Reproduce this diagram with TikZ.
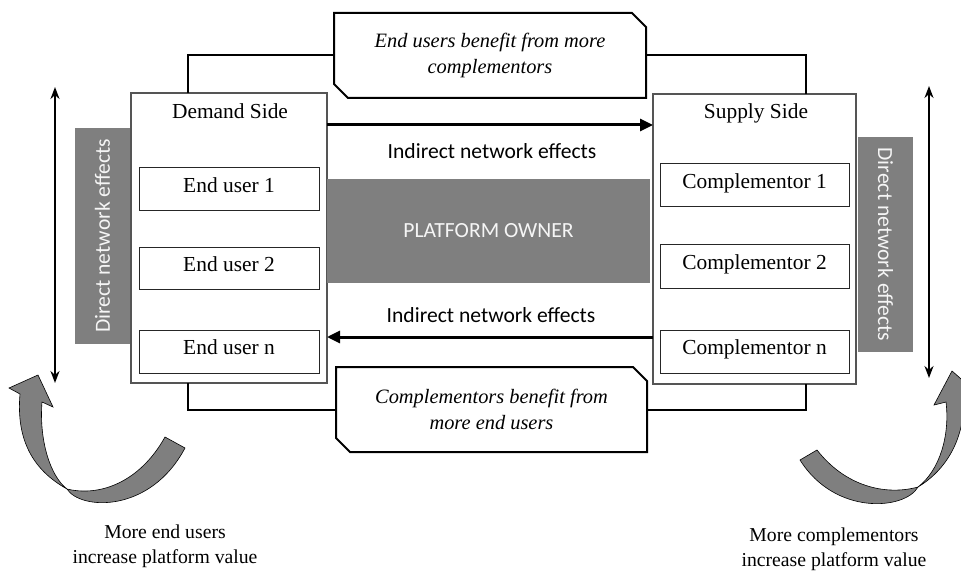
\documentclass[tikz,border=0pt]{standalone}
\usepackage{fontspec}
\setmainfont{Liberation Serif}
\newfontfamily\calib{Carlito}
\usetikzlibrary{arrows.meta}
\definecolor{pgray}{HTML}{7F7F7F}
\definecolor{pline}{HTML}{555555}
\begin{document}
\begin{tikzpicture}[x=1pt,y=-1pt,
  sidebox/.style={draw=pline,line width=1.2pt,inner sep=0pt,outer sep=0pt,fill=white},
  sidetitle/.style={font=\fontsize{21.4}{24}\selectfont,inner sep=0pt},
  item/.style={draw=black!85,line width=1pt,inner sep=0pt,outer sep=0pt,fill=white,
    font=\fontsize{21.4}{24}\selectfont,text height=0.66em,text depth=0pt},
  graybox/.style={fill=pgray,inner sep=0pt,outer sep=0pt,text=white!96!black},
  calltext/.style={inner sep=0pt,outer sep=0pt,align=center,font=\itshape\fontsize{20.4}{26}\selectfont},
  callshape/.style={draw=black,line width=2pt,line join=miter},
  conn/.style={draw=black,line width=2pt},
  bigarrow/.style={line width=3pt,-{Triangle[length=13pt,width=12pt]}},
  dbl/.style={line width=2pt,{Stealth[length=12pt,width=9pt]}-{Stealth[length=12pt,width=9pt]}},
  sansfont/.style={font=\calib\fontsize{21.6}{24}\selectfont},
  sanslbl/.style={sansfont,inner sep=0pt},
  caption/.style={align=center,inner sep=0pt,font=\fontsize{19.7}{25}\selectfont},
  curvearrow/.style={fill=pgray,draw=black,line width=0.6pt,line join=miter}
]
\useasboundingbox (0,0) rectangle (961,572);
\clip (0,0) rectangle (961,572);

% connector helper coordinates
\coordinate (dl) at (188,0);
\coordinate (sr) at (806,0);
\coordinate (ya) at (0,125);
\coordinate (yb) at (0,337);

% callouts
\node[calltext,minimum width=312pt,minimum height=85pt] (topcb) at (490,55.5)
  {End users benefit from more\\complementors};
\node[calltext,minimum width=311pt,minimum height=85pt] (botcb) at (491.5,409.5)
  {Complementors benefit from\\more end users};
\draw[callshape] (topcb.north west) -- ([xshift=-14pt]topcb.north east)
  -- ([yshift=-14pt]topcb.north east) -- (topcb.south east)
  -- ([xshift=14pt]topcb.south west) -- ([yshift=14pt]topcb.south west) -- cycle;
\draw[callshape] (botcb.north west) -- ([xshift=-14pt]botcb.north east)
  -- ([yshift=-14pt]botcb.north east) -- (botcb.south east)
  -- ([xshift=14pt]botcb.south west) -- ([yshift=14pt]botcb.south west) -- cycle;

% side boxes
\node[sidebox,minimum width=196pt,minimum height=290pt] (demand) at (229,238) {};
\node[sidebox,minimum width=203pt,minimum height=290pt] (supply) at (754.5,239) {};

% connectors from callouts to side boxes
\draw[conn] (topcb.west) -| (dl |- demand.north);
\draw[conn] (topcb.east) -| (sr |- supply.north);
\draw[conn] (botcb.west) -| (dl |- demand.south);
\draw[conn] (botcb.east) -| (sr |- supply.south);

% titles and items
\node[sidetitle,anchor=base] (demandlbl) at (230,119) {Demand Side};
\node[sidetitle,anchor=base] (supplylbl) at (756,119) {Supply Side};
\node[item,minimum width=180pt,minimum height=43pt] (eu1) at (229,189.5) {End user 1};
\node[item,minimum width=180pt,minimum height=42pt] (eu2) at (229,268) {End user 2};
\node[item,minimum width=180pt,minimum height=43pt] (eun) at (229,351.5) {End user n};
\node[item,minimum width=189pt,minimum height=43pt] (c1) at (754.5,185.5) {Complementor 1};
\node[item,minimum width=189pt,minimum height=44pt] (c2) at (754.5,266) {Complementor 2};
\node[item,minimum width=189pt,minimum height=43pt] (cn) at (754.5,351.5) {Complementor n};

% platform owner
\node[graybox,sansfont,minimum width=323pt,minimum height=103pt] (owner) at (488.5,231) {PLATFORM OWNER};

% direct network effects labels
\node[graybox,sansfont,rotate=90,minimum width=216pt,minimum height=55pt] (dnl) at (102.5,236) {Direct network effects};
\node[graybox,sansfont,rotate=-90,minimum width=215pt,minimum height=55pt] (dnr) at (885.5,244.5) {Direct network effects};

% indirect network effects arrows
\draw[bigarrow] (demand.east |- ya) -- (supply.west |- ya);
\draw[bigarrow] (supply.west |- yb) -- (demand.east |- yb);
\node[sanslbl,anchor=base] (ine1) at (492,159) {Indirect network effects};
\node[sanslbl,anchor=base] (ine2) at (491,322.7) {Indirect network effects};

% vertical double arrows
\coordinate (l1) at (55,87);
\coordinate (l2) at (55,383);
\draw[dbl] (l1) -- (l2);
\coordinate (r1) at (929,86);
\coordinate (r2) at (929,378);
\draw[dbl] (r1) -- (r2);

% curved arrows (left)
\draw[curvearrow] (165,437) .. controls (140,482) and (100,497) .. (67,489)
  .. controls (80,510) and (150,514) .. (185,448) -- cycle;
\draw[curvearrow] (67,489) .. controls (33,470) and (16,440) .. (20,394)
  -- (9,388) -- (38,375) -- (53,407) -- (42,402)
  .. controls (39,440) and (50,476) .. (67,489) -- cycle;
% curved arrows (right)
\draw[curvearrow] (817,450) .. controls (845,486) and (885,496) .. (918,487)
  .. controls (905,510) and (835,516) .. (800,460) -- cycle;
\draw[curvearrow] (918,487) .. controls (946,470) and (964,440) .. (964,400)
  -- (976,392) -- (952,371) -- (934,405) -- (946,402)
  .. controls (950,435) and (940,470) .. (918,487) -- cycle;

% captions
\node[caption] (capl) at (165,546) {More end users\\increase platform value};
\node[caption] (capr) at (834,549) {More complementors\\increase platform value};
\end{tikzpicture}
\end{document}
